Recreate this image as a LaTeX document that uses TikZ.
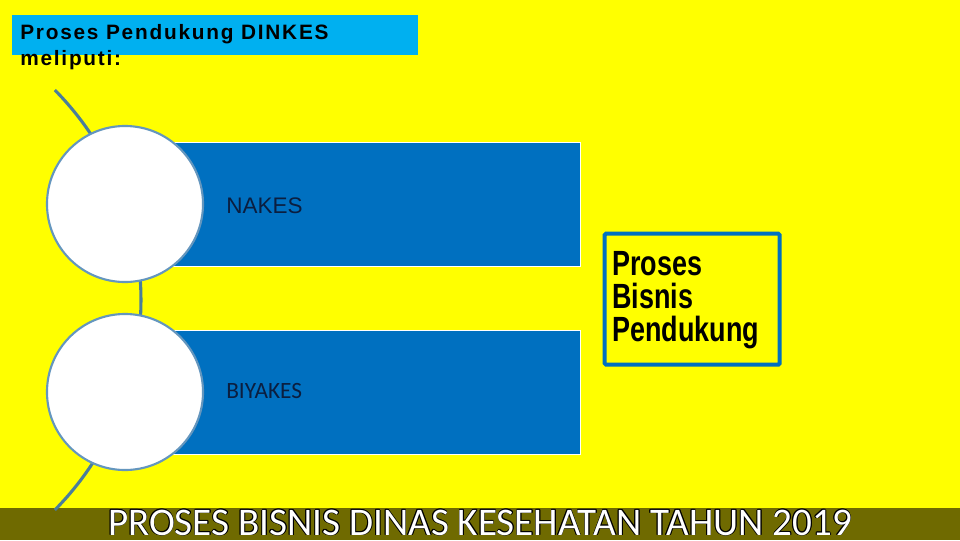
\documentclass[tikz,border=0pt]{standalone}
\usepackage{fontspec}
\setmainfont{Liberation Sans}
\newfontfamily\titlefont[LetterSpace=8.5]{Liberation Sans}
\newfontfamily\calfont{Carlito}
\definecolor{bgyellow}{RGB}{255,255,0}
\definecolor{titlecyan}{RGB}{0,176,240}
\definecolor{boxblue}{RGB}{0,112,192}
\definecolor{arcgray}{RGB}{74,126,155}
\definecolor{ringblue}{RGB}{100,150,190}
\definecolor{barolive}{RGB}{111,106,0}
\definecolor{navytext}{RGB}{11,30,63}
\begin{document}
\begin{tikzpicture}[x=0.025cm,y=-0.025cm]
\tikzstyle{bubble}=[draw=ringblue,line width=1.5pt,fill=white,shape=circle,inner sep=0pt,minimum size=3.9cm]
\tikzstyle{band}=[draw=white,line width=0.6pt,fill=boxblue,inner sep=0pt,minimum width=11.375cm,minimum height=3.1cm]
\tikzstyle{bartext}=[inner sep=0pt,anchor=base,font=\calfont\fontsize{27.8}{30}\selectfont]
% background and footer
\useasboundingbox (0,0) rectangle (960,540);
\path[fill=bgyellow] (0,0) rectangle (960,540);
\path (480,524) node[fill=barolive,inner sep=0pt,minimum width=24cm,minimum height=0.8cm](footer){};
% title
\path (215,35) node[fill=titlecyan,inner sep=0pt,minimum width=10.15cm,minimum height=1cm](titlebox){};
\path (20,65) node[anchor=base west,inner sep=0pt,align=left,font=\titlefont\bfseries\fontsize{14.8}{18.3}\selectfont](title){Proses Pendukung DINKES\\meliputi:};
% arc behind the circles
\path (-158,300) coordinate(hub);
\draw[arcgray,line width=2.2pt] (hub) ++(-44.6:299) arc[start angle=-44.6,end angle=44.6,radius=299];
% bands and circles
\path (352.5,204) node[band](b1){};
\path (352.5,392) node[band](b2){};
\path (125,204) node[bubble](c1){};
\path (125,392) node[bubble](c2){};
\path (226,213) node[anchor=base west,inner sep=0pt,text=navytext,font=\fontsize{16}{18}\selectfont](nakes){NAKES};
\path (226,398) node[anchor=base west,inner sep=0pt,text=navytext,font=\calfont\fontsize{16.6}{18}\selectfont](biyakes){BIYAKES};
% side box
\path (692.2,299.2) node[draw=boxblue,line width=2.85pt,rounded corners=1pt,fill=bgyellow,minimum width=4.375cm,minimum height=3.275cm,inner sep=0pt](side){};
\path (612,341.7) node[anchor=base west,inner sep=0pt,align=left,font=\bfseries\fontsize{24.9}{23.5}\selectfont](sidetext){\scalebox{0.77}[1]{Proses}\\\scalebox{0.77}[1]{Bisnis}\\\scalebox{0.77}[1]{Pendukung}};
% footer text with outline
\foreach \dx/\dy in {-0.7/0,0.7/0,0/-0.7,0/0.7,-0.6/-0.6,0.6/0.6,-0.6/0.6,0.6/-0.6}
  \path (480+\dx,535+\dy) node[bartext,text=black]{PROSES BISNIS DINAS KESEHATAN TAHUN 2019};
\path (480,535) node[bartext,text=white](bartitle){PROSES BISNIS DINAS KESEHATAN TAHUN 2019};
\end{tikzpicture}
\end{document}
